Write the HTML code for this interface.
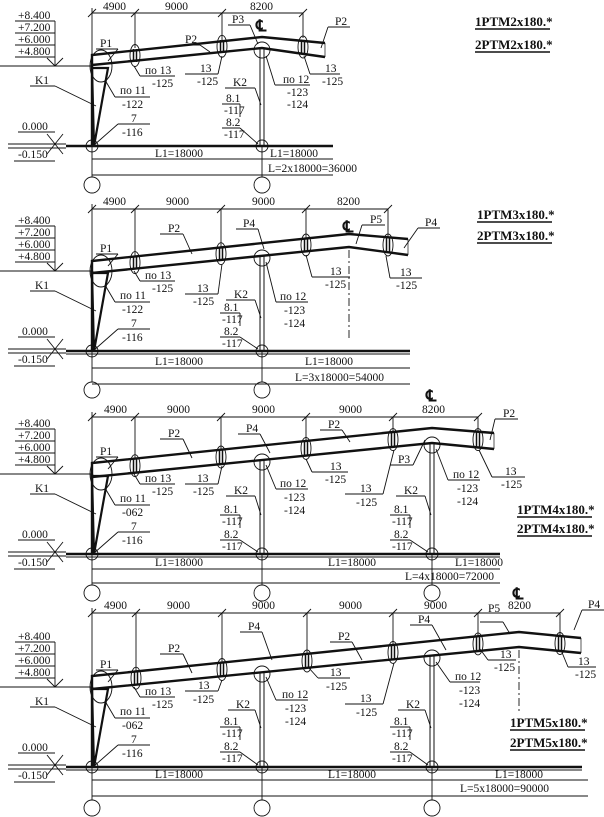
<!DOCTYPE html>
<html><head><meta charset="utf-8"><style>
html,body{margin:0;padding:0;background:#fff;}
svg{display:block;}
text{font-family:"Liberation Serif",serif;font-size:11.5px;fill:#111;}
.t{font-weight:bold;font-size:13px;}
.s{font-size:16px;font-weight:bold;}
line,polyline,path,ellipse,circle,polygon{stroke:#111;fill:none;}
</style></head><body>
<svg width="604" height="817" viewBox="0 0 604 817" xmlns="http://www.w3.org/2000/svg" stroke-width="0.9">

<!-- ================= PANEL 1 ================= -->
<g transform="translate(0,146)">
 <text x="18" y="-127">+8.400</text><text x="18" y="-115">+7.200</text><text x="18" y="-103">+6.000</text><text x="18" y="-91">+4.800</text>
 <line x1="15" y1="-125" x2="55" y2="-125"/><line x1="15" y1="-113" x2="55" y2="-113"/><line x1="15" y1="-101" x2="55" y2="-101"/><line x1="15" y1="-89" x2="55" y2="-89"/>
 <line x1="55" y1="-125" x2="55" y2="-80"/><polyline points="47,-88 55,-80 63,-88"/>
 <line x1="0" y1="-80" x2="92" y2="-80"/>
 <ellipse cx="101" cy="-80" rx="11" ry="16"/>
 <polygon points="92,-78 108,-78 94,0" stroke-width="2.2"/><line x1="92" y1="-80" x2="92" y2="0" stroke-width="2.4"/>
 <text x="100" y="-99">P1</text><line x1="96" y1="-97" x2="118" y2="-97"/><line x1="118" y1="-97" x2="108" y2="-85"/>
 <text x="35" y="-62">K1</text><line x1="30" y1="-60" x2="55" y2="-60"/><line x1="55" y1="-60" x2="96" y2="-40"/>
 <text x="120" y="-52">по 11</text><line x1="115" y1="-49" x2="150" y2="-49"/><text x="122" y="-38">-122</text><line x1="115" y1="-49" x2="105" y2="-66"/>
 <text x="131" y="-24">7</text><line x1="118" y1="-22" x2="150" y2="-22"/><text x="122" y="-10">-116</text><line x1="118" y1="-22" x2="93" y2="0"/>
 <text x="145" y="-72">по 13</text><line x1="140" y1="-70" x2="175" y2="-70"/><text x="152" y="-59">-125</text><line x1="140" y1="-70" x2="134" y2="-80"/>
 <text x="22" y="-16">0.000</text><line x1="18" y1="-14" x2="55" y2="-14"/>
 <text x="18" y="12">-0.150</text><line x1="14" y1="15" x2="55" y2="15"/>
 <line x1="47" y1="-12" x2="63" y2="8"/><line x1="63" y1="-12" x2="47" y2="8"/>
 <line x1="8" y1="-2" x2="66" y2="-2"/><line x1="8" y1="2" x2="66" y2="2"/>
 <circle cx="92" cy="0" r="6"/>
 <line x1="92" y1="0" x2="92" y2="31"/><circle cx="92" cy="39" r="8"/>
</g>
<line x1="66" y1="146" x2="333" y2="146" stroke-width="2.4"/>
<line x1="92" y1="159" x2="333" y2="159"/><line x1="92" y1="175" x2="333" y2="175"/>
<line x1="262" y1="146" x2="262" y2="177"/><circle cx="262" cy="185" r="8"/><circle cx="262" cy="146" r="6"/>
<text x="155" y="157">L1=18000</text><text x="270" y="157">L1=18000</text><text x="268" y="172">L=2x18000=36000</text>
<line x1="92" y1="13" x2="303" y2="13"/>
<line x1="92" y1="8" x2="92" y2="55"/><line x1="135" y1="13" x2="135" y2="48"/><line x1="222" y1="13" x2="222" y2="40"/><line x1="303" y1="13" x2="303" y2="38"/>
<line x1="88" y1="17" x2="96" y2="9"/><line x1="131" y1="17" x2="139" y2="9"/><line x1="218" y1="17" x2="226" y2="9"/><line x1="299" y1="17" x2="307" y2="9"/>
<text x="103" y="10">4900</text><text x="165" y="10">9000</text><text x="250" y="10">8200</text>
<polyline points="325,43 262,37 92,55 92,65 262,48 325,57" stroke-width="2.4"/>
<line x1="325" y1="43" x2="325" y2="57" stroke-width="0.7"/>
<g><ellipse cx="135" cy="55.5" rx="5" ry="11"/><line x1="133.5" y1="49" x2="133.5" y2="62" stroke-width="1.5"/><line x1="136.5" y1="49" x2="136.5" y2="62" stroke-width="1.5"/></g>
<g><ellipse cx="222" cy="46.3" rx="5" ry="11"/><line x1="220.5" y1="40" x2="220.5" y2="53" stroke-width="1.5"/><line x1="223.5" y1="40" x2="223.5" y2="53" stroke-width="1.5"/></g>
<g><ellipse cx="303" cy="47" rx="5" ry="11"/><line x1="301.5" y1="41" x2="301.5" y2="54" stroke-width="1.5"/><line x1="304.5" y1="41" x2="304.5" y2="54" stroke-width="1.5"/></g>
<rect x="260" y="48" width="4" height="98" stroke="#111" stroke-width="1" fill="none"/>
<circle cx="262" cy="50" r="8"/>
<text x="256" y="31" class="s">℄</text>
<text x="185" y="43">P2</text><line x1="180" y1="45" x2="200" y2="45"/><line x1="200" y1="45" x2="210" y2="52"/>
<text x="232" y="23">P3</text><line x1="228" y1="25" x2="250" y2="25"/><line x1="250" y1="25" x2="258" y2="44"/>
<text x="335" y="25">P2</text><line x1="328" y1="27" x2="350" y2="27"/><line x1="328" y1="27" x2="321" y2="48"/>
<text x="200" y="72">13</text><line x1="185" y1="74" x2="218" y2="74"/><text x="197" y="85">-125</text><line x1="218" y1="74" x2="222" y2="56"/>
<text x="283" y="83">по 12</text><line x1="275" y1="85" x2="310" y2="85"/><text x="287" y="96">-123</text><text x="287" y="108">-124</text><line x1="275" y1="85" x2="266" y2="56"/>
<text x="325" y="72">13</text><line x1="310" y1="74" x2="340" y2="74"/><text x="322" y="85">-125</text><line x1="310" y1="74" x2="304" y2="56"/>
<text x="233" y="86">K2</text><line x1="225" y1="88" x2="255" y2="88"/><line x1="255" y1="88" x2="261" y2="105"/>
<text x="226" y="102">8.1</text><line x1="222" y1="104" x2="240" y2="104"/><text x="224" y="114">-117</text>
<text x="226" y="126">8.2</text><line x1="222" y1="128" x2="240" y2="128"/><text x="224" y="138">-117</text>
<line x1="240" y1="104" x2="240" y2="117"/><line x1="240" y1="128" x2="258" y2="144"/>
<text x="475" y="26" class="t">1PTM2x180.*</text><line x1="475" y1="29" x2="550" y2="29" stroke-width="1.5"/>
<text x="475" y="49" class="t">2PTM2x180.*</text><line x1="475" y1="52" x2="550" y2="52" stroke-width="1.5"/>

<!-- ================= PANEL 2 ================= -->
<g transform="translate(0,351)">
 <text x="18" y="-127">+8.400</text><text x="18" y="-115">+7.200</text><text x="18" y="-103">+6.000</text><text x="18" y="-91">+4.800</text>
 <line x1="15" y1="-125" x2="55" y2="-125"/><line x1="15" y1="-113" x2="55" y2="-113"/><line x1="15" y1="-101" x2="55" y2="-101"/><line x1="15" y1="-89" x2="55" y2="-89"/>
 <line x1="55" y1="-125" x2="55" y2="-80"/><polyline points="47,-88 55,-80 63,-88"/>
 <line x1="0" y1="-80" x2="92" y2="-80"/>
 <ellipse cx="101" cy="-80" rx="11" ry="16"/>
 <polygon points="92,-78 108,-78 94,0" stroke-width="2.2"/><line x1="92" y1="-80" x2="92" y2="0" stroke-width="2.4"/>
 <text x="100" y="-99">P1</text><line x1="96" y1="-97" x2="118" y2="-97"/><line x1="118" y1="-97" x2="108" y2="-85"/>
 <text x="35" y="-62">K1</text><line x1="30" y1="-60" x2="55" y2="-60"/><line x1="55" y1="-60" x2="96" y2="-40"/>
 <text x="120" y="-52">по 11</text><line x1="115" y1="-49" x2="150" y2="-49"/><text x="122" y="-38">-122</text><line x1="115" y1="-49" x2="105" y2="-66"/>
 <text x="131" y="-24">7</text><line x1="118" y1="-22" x2="150" y2="-22"/><text x="122" y="-10">-116</text><line x1="118" y1="-22" x2="93" y2="0"/>
 <text x="145" y="-72">по 13</text><line x1="140" y1="-70" x2="175" y2="-70"/><text x="152" y="-59">-125</text><line x1="140" y1="-70" x2="134" y2="-80"/>
 <text x="22" y="-16">0.000</text><line x1="18" y1="-14" x2="55" y2="-14"/>
 <text x="18" y="12">-0.150</text><line x1="14" y1="15" x2="55" y2="15"/>
 <line x1="47" y1="-12" x2="63" y2="8"/><line x1="63" y1="-12" x2="47" y2="8"/>
 <line x1="8" y1="-2" x2="66" y2="-2"/><line x1="8" y1="2" x2="66" y2="2"/>
 <circle cx="92" cy="0" r="6"/>
 <line x1="92" y1="0" x2="92" y2="31"/><circle cx="92" cy="39" r="8"/>
</g>
<line x1="66" y1="351" x2="410" y2="351" stroke-width="2.4"/><line x1="66" y1="354" x2="410" y2="354"/>
<line x1="92" y1="368" x2="410" y2="368"/><line x1="92" y1="384" x2="410" y2="384"/>
<line x1="262" y1="351" x2="262" y2="382"/><circle cx="262" cy="390" r="8"/><circle cx="262" cy="351" r="6"/>
<text x="155" y="365">L1=18000</text><text x="305" y="365">L1=18000</text><text x="295" y="381">L=3x18000=54000</text>
<line x1="92" y1="209" x2="388" y2="209"/>
<line x1="92" y1="204" x2="92" y2="261"/><line x1="135" y1="209" x2="135" y2="256"/><line x1="221" y1="209" x2="221" y2="247"/><line x1="306" y1="209" x2="306" y2="239"/><line x1="388" y1="209" x2="388" y2="237"/>
<line x1="88" y1="213" x2="96" y2="205"/><line x1="131" y1="213" x2="139" y2="205"/><line x1="217" y1="213" x2="225" y2="205"/><line x1="302" y1="213" x2="310" y2="205"/><line x1="384" y1="213" x2="392" y2="205"/>
<text x="103" y="205">4900</text><text x="166" y="205">9000</text><text x="252" y="205">9000</text><text x="337" y="205">8200</text>
<polyline points="408,239 349,234 92,261 92,273 349,247 408,255" stroke-width="2.4"/>
<line x1="408" y1="239" x2="408" y2="255" stroke-width="0.7"/>
<line x1="349" y1="250" x2="349" y2="340" stroke-dasharray="8,3,2,3"/>
<g><ellipse cx="135" cy="262.6" rx="5" ry="11"/><line x1="133.5" y1="256" x2="133.5" y2="269" stroke-width="1.5"/><line x1="136.5" y1="256" x2="136.5" y2="269" stroke-width="1.5"/></g>
<g><ellipse cx="221" cy="253.7" rx="5" ry="11"/><line x1="219.5" y1="247" x2="219.5" y2="260" stroke-width="1.5"/><line x1="222.5" y1="247" x2="222.5" y2="260" stroke-width="1.5"/></g>
<g><ellipse cx="306" cy="245" rx="5" ry="11"/><line x1="304.5" y1="238" x2="304.5" y2="251" stroke-width="1.5"/><line x1="307.5" y1="238" x2="307.5" y2="251" stroke-width="1.5"/></g>
<g><ellipse cx="388" cy="245" rx="5" ry="11"/><line x1="386.5" y1="238" x2="386.5" y2="252" stroke-width="1.5"/><line x1="389.5" y1="238" x2="389.5" y2="252" stroke-width="1.5"/></g>
<rect x="260" y="256" width="4" height="95" stroke="#111" stroke-width="1" fill="none"/>
<circle cx="262" cy="258" r="8"/>
<text x="343" y="232" class="s">℄</text>
<text x="168" y="232">P2</text><line x1="160" y1="234" x2="183" y2="234"/><line x1="183" y1="234" x2="192" y2="254"/>
<text x="243" y="227">P4</text><line x1="236" y1="229" x2="258" y2="229"/><line x1="258" y1="229" x2="264" y2="249"/>
<text x="370" y="223">P5</text><line x1="362" y1="225" x2="385" y2="225"/><line x1="362" y1="225" x2="356" y2="244"/>
<text x="425" y="226">P4</text><line x1="418" y1="228" x2="440" y2="228"/><line x1="418" y1="228" x2="404" y2="248"/>
<text x="197" y="292">13</text><line x1="185" y1="294" x2="218" y2="294"/><text x="193" y="305">-125</text><line x1="218" y1="294" x2="222" y2="264"/>
<text x="280" y="300">по 12</text><line x1="276" y1="302" x2="308" y2="302"/><text x="284" y="314">-123</text><text x="284" y="327">-124</text><line x1="276" y1="302" x2="266" y2="262"/>
<text x="330" y="275">13</text><line x1="312" y1="277" x2="350" y2="277"/><text x="325" y="288">-125</text><line x1="312" y1="277" x2="306" y2="255"/>
<text x="400" y="276">13</text><line x1="390" y1="278" x2="422" y2="278"/><text x="396" y="289">-125</text><line x1="390" y1="278" x2="386" y2="256"/>
<text x="234" y="298">K2</text><line x1="226" y1="300" x2="255" y2="300"/><line x1="255" y1="300" x2="261" y2="318"/>
<text x="224" y="311">8.1</text><line x1="220" y1="313" x2="240" y2="313"/><text x="222" y="323">-117</text>
<text x="224" y="335">8.2</text><line x1="220" y1="337" x2="240" y2="337"/><text x="222" y="347">-117</text>
<line x1="240" y1="313" x2="240" y2="326"/><line x1="240" y1="337" x2="258" y2="349"/>
<text x="477" y="219" class="t">1PTM3x180.*</text><line x1="477" y1="222" x2="552" y2="222" stroke-width="1.5"/>
<text x="477" y="240" class="t">2PTM3x180.*</text><line x1="477" y1="243" x2="552" y2="243" stroke-width="1.5"/>

<!-- ================= PANEL 3 ================= -->
<g transform="translate(0,554)">
 <text x="18" y="-127">+8.400</text><text x="18" y="-115">+7.200</text><text x="18" y="-103">+6.000</text><text x="18" y="-91">+4.800</text>
 <line x1="15" y1="-125" x2="55" y2="-125"/><line x1="15" y1="-113" x2="55" y2="-113"/><line x1="15" y1="-101" x2="55" y2="-101"/><line x1="15" y1="-89" x2="55" y2="-89"/>
 <line x1="55" y1="-125" x2="55" y2="-80"/><polyline points="47,-88 55,-80 63,-88"/>
 <line x1="0" y1="-80" x2="92" y2="-80"/>
 <ellipse cx="101" cy="-80" rx="11" ry="16"/>
 <polygon points="92,-78 108,-78 94,0" stroke-width="2.2"/><line x1="92" y1="-80" x2="92" y2="0" stroke-width="2.4"/>
 <text x="100" y="-99">P1</text><line x1="96" y1="-97" x2="118" y2="-97"/><line x1="118" y1="-97" x2="108" y2="-85"/>
 <text x="35" y="-62">K1</text><line x1="30" y1="-60" x2="55" y2="-60"/><line x1="55" y1="-60" x2="96" y2="-40"/>
 <text x="120" y="-52">по 11</text><line x1="115" y1="-49" x2="150" y2="-49"/><text x="122" y="-38">-062</text><line x1="115" y1="-49" x2="105" y2="-66"/>
 <text x="131" y="-24">7</text><line x1="118" y1="-22" x2="150" y2="-22"/><text x="122" y="-10">-116</text><line x1="118" y1="-22" x2="93" y2="0"/>
 <text x="145" y="-72">по 13</text><line x1="140" y1="-70" x2="175" y2="-70"/><text x="152" y="-59">-125</text><line x1="140" y1="-70" x2="134" y2="-80"/>
 <text x="22" y="-16">0.000</text><line x1="18" y1="-14" x2="55" y2="-14"/>
 <text x="18" y="12">-0.150</text><line x1="14" y1="15" x2="55" y2="15"/>
 <line x1="47" y1="-12" x2="63" y2="8"/><line x1="63" y1="-12" x2="47" y2="8"/>
 <line x1="8" y1="-2" x2="66" y2="-2"/><line x1="8" y1="2" x2="66" y2="2"/>
 <circle cx="92" cy="0" r="6"/>
 <line x1="92" y1="0" x2="92" y2="31"/><circle cx="92" cy="39" r="8"/>
</g>
<line x1="66" y1="554" x2="500" y2="554" stroke-width="2.4"/><line x1="66" y1="557" x2="500" y2="557"/>
<line x1="92" y1="569" x2="500" y2="569"/><line x1="92" y1="583" x2="500" y2="583"/>
<line x1="262" y1="554" x2="262" y2="585"/><circle cx="262" cy="593" r="8"/><circle cx="262" cy="554" r="6"/>
<line x1="432" y1="554" x2="432" y2="585"/><circle cx="432" cy="593" r="8"/><circle cx="432" cy="554" r="6"/>
<text x="155" y="566">L1=18000</text><text x="328" y="566">L1=18000</text><text x="455" y="566">L1=18000</text><text x="405" y="580">L=4x18000=72000</text>
<line x1="92" y1="417" x2="478" y2="417"/>
<line x1="92" y1="412" x2="92" y2="463"/><line x1="135" y1="417" x2="135" y2="458"/><line x1="221" y1="417" x2="221" y2="450"/><line x1="306" y1="417" x2="306" y2="441"/><line x1="393" y1="417" x2="393" y2="432"/><line x1="478" y1="417" x2="478" y2="432"/>
<line x1="88" y1="421" x2="96" y2="413"/><line x1="131" y1="421" x2="139" y2="413"/><line x1="217" y1="421" x2="225" y2="413"/><line x1="302" y1="421" x2="310" y2="413"/><line x1="389" y1="421" x2="397" y2="413"/><line x1="474" y1="421" x2="482" y2="413"/>
<text x="104" y="413">4900</text><text x="167" y="413">9000</text><text x="252" y="413">9000</text><text x="339" y="413">9000</text><text x="422" y="413">8200</text>
<text x="426" y="401" class="s">℄</text>
<polyline points="494,433 432,428 92,463 92,477 432,443 494,449" stroke-width="2.4"/>
<line x1="494" y1="433" x2="494" y2="449" stroke-width="0.7"/>
<g><ellipse cx="135" cy="465.7" rx="5" ry="11"/><line x1="133.5" y1="459" x2="133.5" y2="473" stroke-width="1.5"/><line x1="136.5" y1="459" x2="136.5" y2="473" stroke-width="1.5"/></g>
<g><ellipse cx="221" cy="457" rx="5" ry="11"/><line x1="219.5" y1="450" x2="219.5" y2="464" stroke-width="1.5"/><line x1="222.5" y1="450" x2="222.5" y2="464" stroke-width="1.5"/></g>
<g><ellipse cx="306" cy="448.4" rx="5" ry="11"/><line x1="304.5" y1="441" x2="304.5" y2="455" stroke-width="1.5"/><line x1="307.5" y1="441" x2="307.5" y2="455" stroke-width="1.5"/></g>
<g><ellipse cx="393" cy="439.6" rx="5" ry="11"/><line x1="391.5" y1="432" x2="391.5" y2="446" stroke-width="1.5"/><line x1="394.5" y1="432" x2="394.5" y2="446" stroke-width="1.5"/></g>
<g><ellipse cx="478" cy="439.6" rx="5" ry="11"/><line x1="476.5" y1="432" x2="476.5" y2="447" stroke-width="1.5"/><line x1="479.5" y1="432" x2="479.5" y2="447" stroke-width="1.5"/></g>
<rect x="260" y="460" width="4" height="94" stroke="#111" stroke-width="1" fill="none"/>
<circle cx="262" cy="462" r="8"/>
<rect x="430" y="443" width="4" height="111" stroke="#111" stroke-width="1" fill="none"/>
<circle cx="432" cy="445" r="8"/>
<text x="168" y="437">P2</text><line x1="160" y1="439" x2="183" y2="439"/><line x1="183" y1="439" x2="192" y2="458"/>
<text x="246" y="432">P4</text><line x1="238" y1="434" x2="260" y2="434"/><line x1="260" y1="434" x2="270" y2="453"/>
<text x="328" y="428">P2</text><line x1="320" y1="430" x2="342" y2="430"/><line x1="342" y1="430" x2="350" y2="442"/>
<text x="398" y="463">P3</text><line x1="390" y1="465" x2="413" y2="465"/><line x1="413" y1="465" x2="425" y2="440"/>
<text x="503" y="417">P2</text><line x1="495" y1="419" x2="518" y2="419"/><line x1="495" y1="419" x2="490" y2="440"/>
<text x="197" y="482">13</text><line x1="185" y1="484" x2="218" y2="484"/><text x="193" y="495">-125</text><line x1="218" y1="484" x2="222" y2="466"/>
<text x="280" y="487">по 12</text><line x1="276" y1="489" x2="308" y2="489"/><text x="284" y="501">-123</text><text x="284" y="514">-124</text><line x1="276" y1="489" x2="266" y2="465"/>
<text x="330" y="470">13</text><line x1="312" y1="472" x2="348" y2="472"/><text x="325" y="483">-125</text><line x1="312" y1="472" x2="306" y2="459"/>
<text x="360" y="492">13</text><line x1="345" y1="494" x2="383" y2="494"/><text x="356" y="506">-125</text><line x1="383" y1="494" x2="394" y2="450"/>
<text x="453" y="478">по 12</text><line x1="448" y1="480" x2="480" y2="480"/><text x="457" y="492">-123</text><text x="457" y="505">-124</text><line x1="448" y1="480" x2="436" y2="449"/>
<text x="505" y="475">13</text><line x1="492" y1="477" x2="525" y2="477"/><text x="501" y="488">-125</text><line x1="492" y1="477" x2="479" y2="450"/>
<text x="234" y="494">K2</text><line x1="226" y1="496" x2="255" y2="496"/><line x1="255" y1="496" x2="261" y2="515"/>
<text x="224" y="513">8.1</text><line x1="220" y1="515" x2="240" y2="515"/><text x="222" y="525">-117</text>
<text x="224" y="538">8.2</text><line x1="220" y1="540" x2="240" y2="540"/><text x="222" y="550">-117</text>
<line x1="240" y1="515" x2="240" y2="528"/><line x1="240" y1="540" x2="258" y2="552"/>
<text x="404" y="494">K2</text><line x1="396" y1="496" x2="425" y2="496"/><line x1="425" y1="496" x2="431" y2="515"/>
<text x="394" y="513">8.1</text><line x1="390" y1="515" x2="410" y2="515"/><text x="392" y="525">-117</text>
<text x="394" y="538">8.2</text><line x1="390" y1="540" x2="410" y2="540"/><text x="392" y="550">-117</text>
<line x1="410" y1="515" x2="410" y2="528"/><line x1="410" y1="540" x2="428" y2="552"/>
<text x="517" y="514" class="t">1PTM4x180.*</text><line x1="517" y1="517" x2="592" y2="517" stroke-width="1.5"/>
<text x="517" y="533" class="t">2PTM4x180.*</text><line x1="517" y1="536" x2="592" y2="536" stroke-width="1.5"/>

<!-- ================= PANEL 4 ================= -->
<g transform="translate(0,767)">
 <text x="18" y="-127">+8.400</text><text x="18" y="-115">+7.200</text><text x="18" y="-103">+6.000</text><text x="18" y="-91">+4.800</text>
 <line x1="15" y1="-125" x2="55" y2="-125"/><line x1="15" y1="-113" x2="55" y2="-113"/><line x1="15" y1="-101" x2="55" y2="-101"/><line x1="15" y1="-89" x2="55" y2="-89"/>
 <line x1="55" y1="-125" x2="55" y2="-80"/><polyline points="47,-88 55,-80 63,-88"/>
 <line x1="0" y1="-80" x2="92" y2="-80"/>
 <ellipse cx="101" cy="-80" rx="11" ry="16"/>
 <polygon points="92,-78 108,-78 94,0" stroke-width="2.2"/><line x1="92" y1="-80" x2="92" y2="0" stroke-width="2.4"/>
 <text x="100" y="-99">P1</text><line x1="96" y1="-97" x2="118" y2="-97"/><line x1="118" y1="-97" x2="108" y2="-85"/>
 <text x="35" y="-62">K1</text><line x1="30" y1="-60" x2="55" y2="-60"/><line x1="55" y1="-60" x2="96" y2="-40"/>
 <text x="120" y="-52">по 11</text><line x1="115" y1="-49" x2="150" y2="-49"/><text x="122" y="-38">-062</text><line x1="115" y1="-49" x2="105" y2="-66"/>
 <text x="131" y="-24">7</text><line x1="118" y1="-22" x2="150" y2="-22"/><text x="122" y="-10">-116</text><line x1="118" y1="-22" x2="93" y2="0"/>
 <text x="145" y="-72">по 13</text><line x1="140" y1="-70" x2="175" y2="-70"/><text x="152" y="-59">-125</text><line x1="140" y1="-70" x2="134" y2="-80"/>
 <text x="22" y="-16">0.000</text><line x1="18" y1="-14" x2="55" y2="-14"/>
 <text x="18" y="12">-0.150</text><line x1="14" y1="15" x2="55" y2="15"/>
 <line x1="47" y1="-12" x2="63" y2="8"/><line x1="63" y1="-12" x2="47" y2="8"/>
 <line x1="8" y1="-2" x2="66" y2="-2"/><line x1="8" y1="2" x2="66" y2="2"/>
 <circle cx="92" cy="0" r="6"/>
 <line x1="92" y1="0" x2="92" y2="33"/><circle cx="92" cy="41" r="8"/>
</g>
<line x1="66" y1="767" x2="582" y2="767" stroke-width="2.4"/><line x1="66" y1="770" x2="582" y2="770"/>
<line x1="92" y1="780" x2="588" y2="780"/><line x1="92" y1="796" x2="588" y2="796"/>
<line x1="262" y1="767" x2="262" y2="800"/><circle cx="262" cy="808" r="8"/><circle cx="262" cy="767" r="6"/>
<line x1="432" y1="767" x2="432" y2="800"/><circle cx="432" cy="808" r="8"/><circle cx="432" cy="767" r="6"/>
<text x="155" y="778">L1=18000</text><text x="328" y="778">L1=18000</text><text x="495" y="778">L1=18000</text><text x="460" y="792">L=5x18000=90000</text>
<line x1="92" y1="613" x2="560" y2="613"/>
<line x1="92" y1="608" x2="92" y2="676"/><line x1="136" y1="613" x2="136" y2="671"/><line x1="222" y1="613" x2="222" y2="662"/><line x1="307" y1="613" x2="307" y2="654"/><line x1="393" y1="613" x2="393" y2="645"/><line x1="478" y1="613" x2="478" y2="636"/><line x1="560" y1="613" x2="560" y2="636"/>
<line x1="88" y1="617" x2="96" y2="609"/><line x1="132" y1="617" x2="140" y2="609"/><line x1="218" y1="617" x2="226" y2="609"/><line x1="303" y1="617" x2="311" y2="609"/><line x1="389" y1="617" x2="397" y2="609"/><line x1="474" y1="617" x2="482" y2="609"/><line x1="556" y1="617" x2="564" y2="609"/>
<text x="104" y="609">4900</text><text x="167" y="609">9000</text><text x="252" y="609">9000</text><text x="339" y="609">9000</text><text x="424" y="609">9000</text><text x="508" y="609">8200</text>
<text x="513" y="599" class="s">℄</text>
<line x1="519" y1="650" x2="519" y2="712" stroke-dasharray="8,3,2,3"/>
<polyline points="581,638 519,632 92,676 92,689 519,647 581,653" stroke-width="2.4"/>
<line x1="581" y1="638" x2="581" y2="653" stroke-width="0.7"/>
<g><ellipse cx="136" cy="678.2" rx="5" ry="11"/><line x1="134.5" y1="671" x2="134.5" y2="685" stroke-width="1.5"/><line x1="137.5" y1="671" x2="137.5" y2="685" stroke-width="1.5"/></g>
<g><ellipse cx="222" cy="669.5" rx="5" ry="11"/><line x1="220.5" y1="662" x2="220.5" y2="676" stroke-width="1.5"/><line x1="223.5" y1="662" x2="223.5" y2="676" stroke-width="1.5"/></g>
<g><ellipse cx="307" cy="661" rx="5" ry="11"/><line x1="305.5" y1="654" x2="305.5" y2="668" stroke-width="1.5"/><line x1="308.5" y1="654" x2="308.5" y2="668" stroke-width="1.5"/></g>
<g><ellipse cx="393" cy="652.4" rx="5" ry="11"/><line x1="391.5" y1="645" x2="391.5" y2="659" stroke-width="1.5"/><line x1="394.5" y1="645" x2="394.5" y2="659" stroke-width="1.5"/></g>
<g><ellipse cx="478" cy="643.9" rx="5" ry="11"/><line x1="476.5" y1="637" x2="476.5" y2="651" stroke-width="1.5"/><line x1="479.5" y1="637" x2="479.5" y2="651" stroke-width="1.5"/></g>
<g><ellipse cx="560" cy="643.5" rx="5" ry="11"/><line x1="558.5" y1="636" x2="558.5" y2="651" stroke-width="1.5"/><line x1="561.5" y1="636" x2="561.5" y2="651" stroke-width="1.5"/></g>
<rect x="260" y="672" width="4" height="95" stroke="#111" stroke-width="1" fill="none"/>
<circle cx="262" cy="674" r="8"/>
<rect x="430" y="656" width="4" height="111" stroke="#111" stroke-width="1" fill="none"/>
<circle cx="432" cy="658" r="8"/>
<text x="168" y="652">P2</text><line x1="160" y1="654" x2="183" y2="654"/><line x1="183" y1="654" x2="192" y2="673"/>
<text x="248" y="630">P4</text><line x1="240" y1="632" x2="262" y2="632"/><line x1="262" y1="632" x2="272" y2="660"/>
<text x="338" y="640">P2</text><line x1="330" y1="642" x2="352" y2="642"/><line x1="352" y1="642" x2="362" y2="660"/>
<text x="418" y="623">P4</text><line x1="410" y1="625" x2="432" y2="625"/><line x1="432" y1="625" x2="446" y2="650"/>
<text x="488" y="612">P5</text><line x1="480" y1="622" x2="503" y2="622"/><line x1="503" y1="622" x2="510" y2="634"/>
<text x="588" y="608">P4</text><line x1="582" y1="610" x2="604" y2="610"/><line x1="582" y1="610" x2="574" y2="630"/>
<text x="198" y="689">13</text><line x1="185" y1="691" x2="218" y2="691"/><text x="193" y="703">-125</text><line x1="218" y1="691" x2="222" y2="680"/>
<text x="282" y="698">по 12</text><line x1="276" y1="700" x2="308" y2="700"/><text x="285" y="712">-123</text><text x="285" y="725">-124</text><line x1="276" y1="700" x2="266" y2="677"/>
<text x="330" y="676">13</text><line x1="318" y1="678" x2="350" y2="678"/><text x="326" y="690">-125</text><line x1="318" y1="678" x2="308" y2="667"/>
<text x="360" y="702">13</text><line x1="345" y1="704" x2="383" y2="704"/><text x="356" y="716">-125</text><line x1="383" y1="704" x2="394" y2="663"/>
<text x="455" y="680">по 12</text><line x1="450" y1="682" x2="480" y2="682"/><text x="459" y="694">-123</text><text x="459" y="707">-124</text><line x1="450" y1="682" x2="436" y2="662"/>
<text x="500" y="658">13</text><line x1="488" y1="660" x2="516" y2="660"/><text x="494" y="671">-125</text><line x1="488" y1="660" x2="480" y2="649"/>
<text x="578" y="665">13</text><line x1="568" y1="667" x2="596" y2="667"/><text x="575" y="678">-125</text><line x1="568" y1="667" x2="561" y2="650"/>
<text x="236" y="708">K2</text><line x1="228" y1="710" x2="255" y2="710"/><line x1="255" y1="710" x2="261" y2="728"/>
<text x="224" y="725">8.1</text><line x1="220" y1="727" x2="240" y2="727"/><text x="222" y="737">-117</text>
<text x="224" y="750">8.2</text><line x1="220" y1="752" x2="240" y2="752"/><text x="222" y="762">-117</text>
<line x1="240" y1="727" x2="240" y2="740"/><line x1="240" y1="752" x2="258" y2="765"/>
<text x="406" y="708">K2</text><line x1="398" y1="710" x2="425" y2="710"/><line x1="425" y1="710" x2="431" y2="728"/>
<text x="394" y="725">8.1</text><line x1="390" y1="727" x2="410" y2="727"/><text x="392" y="737">-117</text>
<text x="394" y="750">8.2</text><line x1="390" y1="752" x2="410" y2="752"/><text x="392" y="762">-117</text>
<line x1="410" y1="727" x2="410" y2="740"/><line x1="410" y1="752" x2="428" y2="765"/>
<text x="510" y="727" class="t">1PTM5x180.*</text><line x1="510" y1="730" x2="585" y2="730" stroke-width="1.5"/>
<text x="510" y="747" class="t">2PTM5x180.*</text><line x1="510" y1="750" x2="585" y2="750" stroke-width="1.5"/>
</svg>
</body></html>
